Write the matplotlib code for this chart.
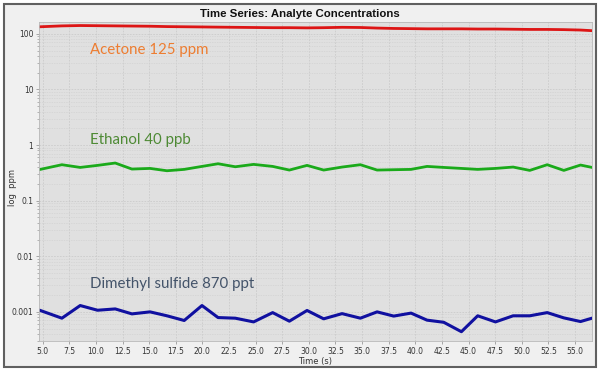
import numpy as np
import matplotlib.pyplot as plt
from matplotlib.ticker import FixedLocator, FixedFormatter, LogLocator, NullFormatter
from matplotlib.patches import Rectangle

# sample times (s)
times = [4.77, 6.80, 8.52, 10.15, 11.81, 13.38, 15.08, 16.67, 18.29, 19.96, 21.47,
         23.09, 24.81, 26.60, 28.17, 29.83, 31.39, 33.12, 34.84, 36.41, 37.97, 39.60,
         41.10, 42.67, 44.33, 45.86, 47.53, 49.19, 50.75, 52.39, 53.95, 55.52, 56.60]

acetone = [134, 139, 141, 140, 139, 138, 137, 135, 134, 133, 132, 131, 130, 129, 129,
           128, 129, 131, 130, 127, 125, 124, 123, 123, 123, 122, 122, 121, 120, 120,
           119, 117, 114]

ethanol = [0.365, 0.443, 0.396, 0.431, 0.475, 0.37, 0.38, 0.345, 0.365, 0.413, 0.461,
           0.407, 0.449, 0.413, 0.355, 0.431, 0.355, 0.402, 0.443, 0.355, 0.36, 0.365,
           0.413, 0.396, 0.38, 0.365, 0.38, 0.402, 0.35, 0.443, 0.35, 0.437, 0.396]

dms = [0.00106, 0.00077, 0.0013, 0.00107, 0.00113, 0.00092, 0.001, 0.00085, 0.0007,
       0.0013, 0.00079, 0.00077, 0.00066, 0.00097, 0.00068, 0.00106, 0.00075, 0.00093,
       0.00077, 0.001, 0.00084, 0.00095, 0.00071, 0.00065, 0.00044, 0.00085, 0.00066,
       0.00085, 0.00085, 0.00097, 0.00078, 0.00067, 0.00077]

x_ticks = [5.0, 7.5, 10.0, 12.5, 15.0, 17.5, 20.0, 22.5, 25.0, 27.5, 30.0, 32.5,
           35.0, 37.5, 40.0, 42.5, 45.0, 47.5, 50.0, 52.5, 55.0]
y_ticks = [0.001, 0.01, 0.1, 1, 10, 100]
y_labels = ["0.001", "0.01", "0.1", "1", "10", "100"]

labels = ["Acetone 125 ppm", "Ethanol 40 ppb", "Dimethyl sulfide 870 ppt"]
label_y = [52, 1.25, 0.0032]
label_colors = ["#ED7D31", "#4E8A35", "#44546A"]

fig = plt.figure(figsize=(6, 3.71), dpi=100)
fig.patch.set_facecolor("white")
# outer panel with dark frame (behind the axes)
fig.patches.append(Rectangle((0.007, 0.012), 0.986, 0.978, transform=fig.transFigure,
                             facecolor="#f0f0f0", edgecolor="#606060", linewidth=1.5,
                             zorder=-10))

ax = fig.add_axes([0.065, 0.081, 0.9217, 0.86])
ax.set_facecolor("#e0e0e0")

ax.plot(times, acetone, color="#dd1515", lw=2.0)
ax.plot(times, ethanol, color="#1aaa1a", lw=2.0)
ax.plot(times, dms, color="#1010a0", lw=2.2)

ax.set_yscale("log")
ax.set_xlim(4.65, 56.6)
ax.set_ylim(0.0003, 164)

ax.xaxis.set_major_locator(FixedLocator(x_ticks))
ax.set_xticklabels([f"{t:.1f}" for t in x_ticks])
ax.yaxis.set_major_locator(FixedLocator(y_ticks))
ax.yaxis.set_major_formatter(FixedFormatter(y_labels))
ax.yaxis.set_minor_locator(LogLocator(base=10, subs=np.arange(2, 10)))
ax.yaxis.set_minor_formatter(NullFormatter())

ax.grid(True, which="major", color="#cbcbcb", linestyle=(0, (2, 1.5)), linewidth=0.6)
ax.grid(True, which="minor", axis="y", color="#d2d2d2", linestyle=(0, (2, 1.5)), linewidth=0.5)

ax.tick_params(axis="both", which="major", labelsize=5.5, labelcolor="#333333",
               color="#999999", length=2.5, width=0.6, pad=1.5)
ax.tick_params(axis="y", which="minor", color="#999999", length=1.5, width=0.5)
for s in ax.spines.values():
    s.set_color("#b8b8b8")
    s.set_linewidth(0.6)

ax.set_xlabel("Time (s)", fontsize=6, color="#333333", labelpad=1)
ax.set_ylabel("log  ppm", fontsize=6, color="#333333")
ax.yaxis.set_label_coords(-0.039, 0.48)

fig.text(0.5, 0.963, "Time Series: Analyte Concentrations", ha="center", va="center",
         fontsize=8.2, fontweight="bold", family="Liberation Sans", color="#111111")

for txt, yv, c in zip(labels, label_y, label_colors):
    ax.text(9.45, yv, txt, color=c, fontsize=10.8, family="Lato", va="center", ha="left")

fig.savefig("out.png", dpi=100)
